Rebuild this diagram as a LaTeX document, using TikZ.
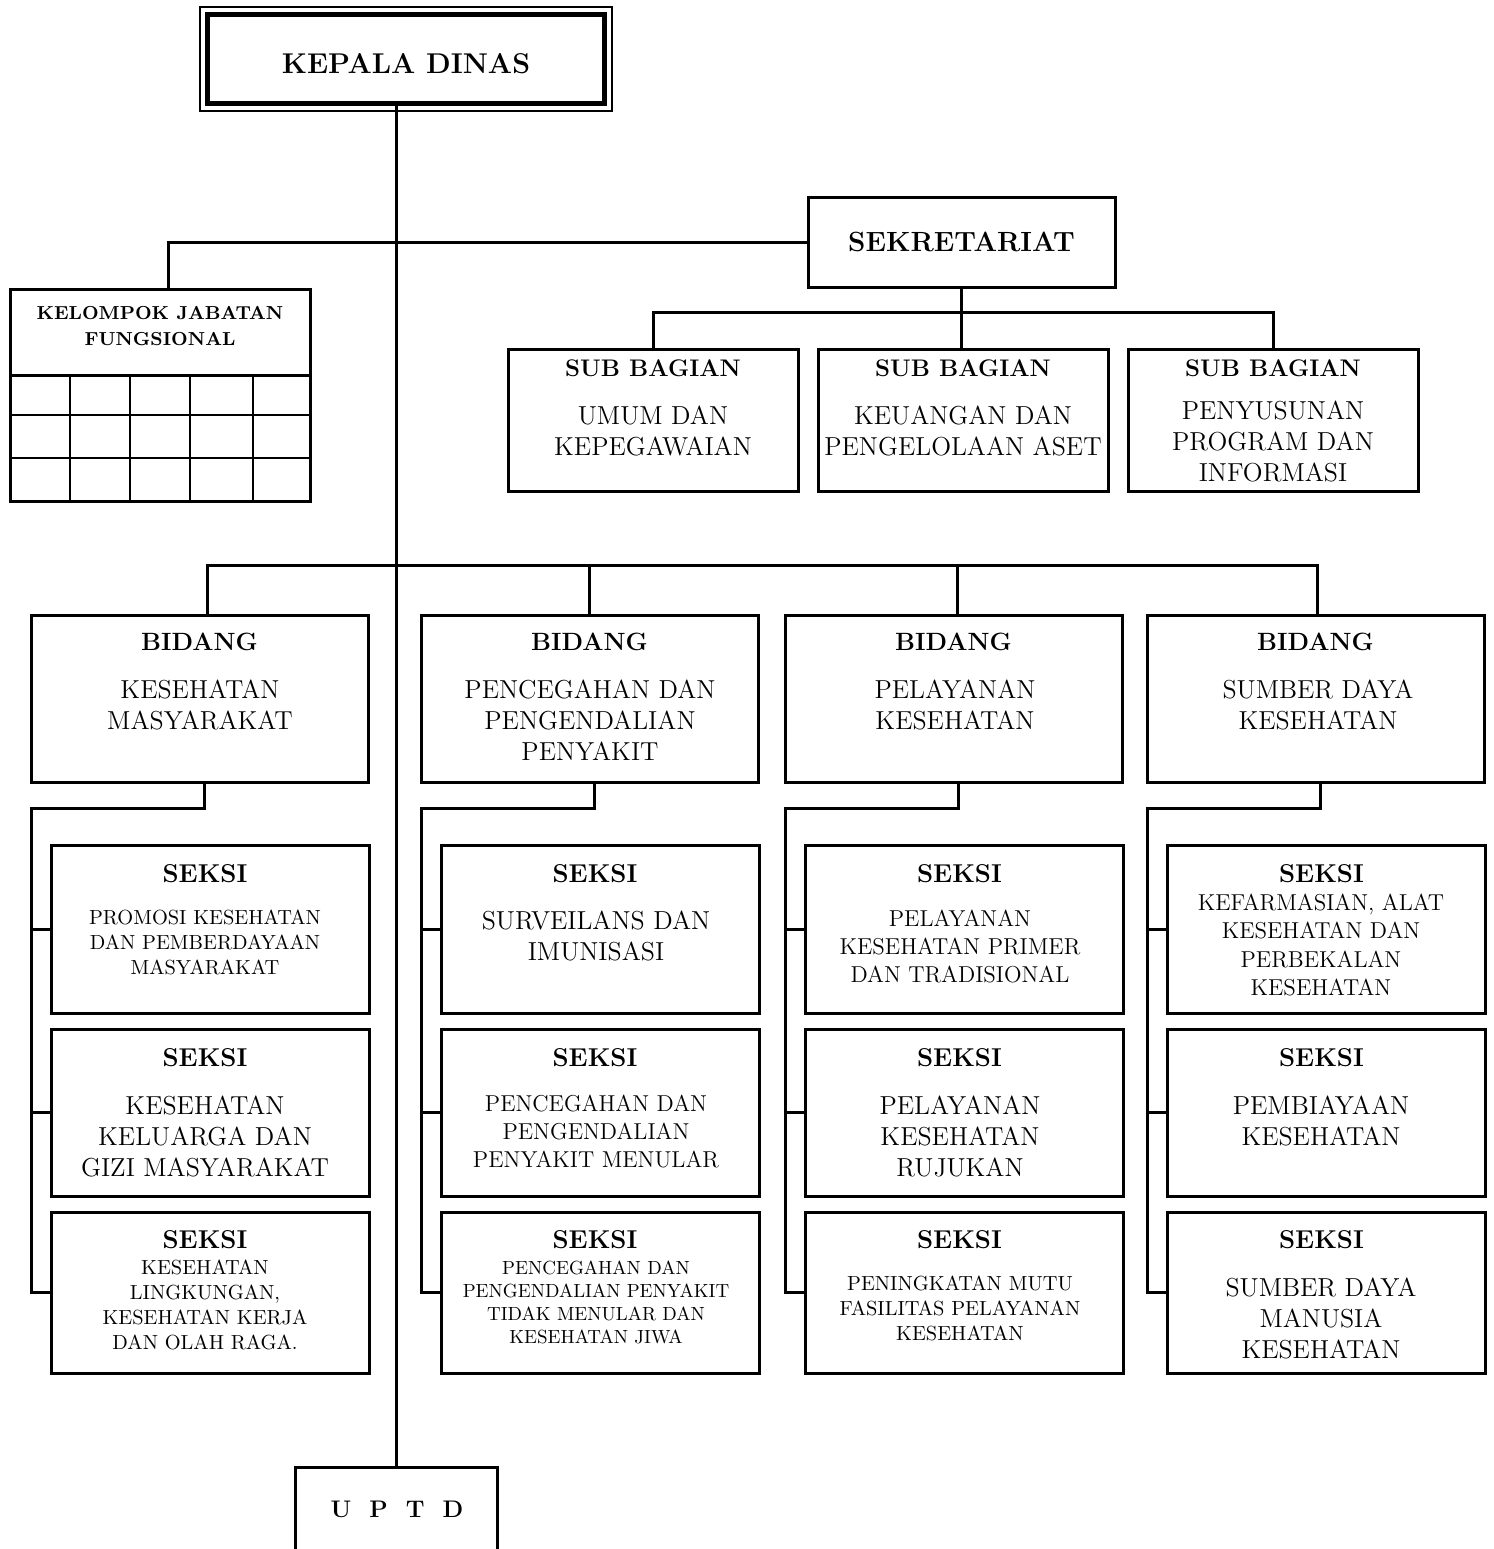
\documentclass[tikz,border=0pt]{standalone}
\usepackage{tikz}
\usetikzlibrary{positioning, calc}
\tikzset{
    box/.style={
        rectangle,
        draw=black,
        line width=1.5pt,
        outer sep=0pt,
        inner sep=0pt
    },
    kdbox/.style={
        box,
        line width=2.5pt,
        minimum width=198.5pt,
        minimum height=44.5pt
    },
    sekbox/.style={
        box,
        minimum width=153.5pt,
        minimum height=45pt
    },
    subbox/.style={
        box,
        minimum width=145pt,
        minimum height=71pt
    },
    bidbox/.style={
        box,
        minimum width=168.5pt,
        minimum height=83.5pt
    },
    seksibox/.style={
        box,
        minimum width=159pt
    },
    head/.style={
        inner sep=0pt,
        font=\fontsize{12.5}{15}\selectfont\bfseries
    },
    bighead/.style={
        inner sep=0pt,
        font=\fontsize{14.3}{17}\selectfont\bfseries
    },
    bigtxt/.style={
        align=center,
        inner sep=0pt,
        font=\fontsize{13}{15.5}\selectfont
    },
    midtxt/.style={
        align=center,
        inner sep=0pt,
        font=\fontsize{11.5}{14.2}\selectfont
    },
    smalltxt/.style={
        align=center,
        inner sep=0pt,
        font=\fontsize{10.2}{12.5}\selectfont
    },
    tinytxt/.style={
        align=center,
        inner sep=0pt,
        font=\fontsize{9.5}{11.5}\selectfont
    },
    gridline/.style={
        draw=black,
        line width=1pt
    },
    connection/.style={
        draw=black,
        line width=1.5pt
    }
}

\begin{document}
\begin{tikzpicture}[x=0.5pt, y=-0.5pt]

\path[use as bounding box, fill=white] (0,0) rectangle (1494,1549);

% Kepala Dinas
\node[kdbox] (kd) at (406,59) {};
\draw[line width=0.75pt] ([shift={(-3.75pt,3.75pt)}]kd.north west) rectangle ([shift={(3.75pt,-3.75pt)}]kd.south east);
\node[bighead] (kd-t) at (406,64) {KEPALA DINAS};

% Sekretariat
\node[sekbox] (sek) at (961.5,242) {};
\node[bighead, font=\fontsize{13.9}{16}\selectfont\bfseries] (sek-t) at (sek) {SEKRETARIAT};

% Kelompok jabatan fungsional
\node[box, minimum width=150pt, minimum height=43pt] (kjf) at (160,332) {};
\node[align=center, inner sep=0pt, font=\fontsize{9.4}{13}\selectfont\bfseries] (kjf-t) at (160,326) {KELOMPOK JABATAN\\FUNGSIONAL};
\foreach \gx in {70,130,190,253}
    \draw[gridline] (\gx,375) -- (\gx,501);
\foreach \gy in {415,458}
    \draw[gridline] (10,\gy) -- (310,\gy);
\draw[connection] (kjf.south west) -- (10,501) -- (310,501) -- (kjf.south east);

% Sub bagian
\foreach \n/\x in {1/653,2/963,3/1273} {
    \node[subbox] (sb\n) at (\x,420) {};
    \node[head, font=\fontsize{12}{14}\selectfont\bfseries] (sb\n-h) at (\x,368) {SUB BAGIAN};
}
\node[bigtxt] (sb1-t) at (653,431) {UMUM DAN\\KEPEGAWAIAN};
\node[bigtxt] (sb2-t) at (963,431) {KEUANGAN DAN\\PENGELOLAAN ASET};
\node[bigtxt] (sb3-t) at (1273,441) {PENYUSUNAN\\PROGRAM DAN\\INFORMASI};

% Bidang
\foreach \n/\x in {1/199.5,2/589.5,3/953.5,4/1315.5} {
    \node[bidbox] (b\n) at (\x,698.5) {};
    \node[head] (b\n-h) at (\x,642) {BIDANG};
}
\node[bigtxt] (b1-t) at (200,704.5) {KESEHATAN\\MASYARAKAT};
\node[bigtxt] (b2-t) at (590,720) {PENCEGAHAN DAN\\PENGENDALIAN\\PENYAKIT};
\node[bigtxt] (b3-t) at (955,704.5) {PELAYANAN\\KESEHATAN};
\node[bigtxt] (b4-t) at (1318,704.5) {SUMBER DAYA\\KESEHATAN};

% Seksi
\foreach \n/\x in {1/210,2/600,3/964.5,4/1326.5} {
    \node[seksibox, minimum height=84pt] (s\n1) at (\x,929) {};
    \node[seksibox, minimum height=83.5pt] (s\n2) at (\x,1112.5) {};
    \node[seksibox, minimum height=80.5pt] (s\n3) at (\x,1292.5) {};
    \node[head, font=\fontsize{12.9}{15}\selectfont\bfseries] (h\n1) at (\x-5,874) {SEKSI};
    \node[head, font=\fontsize{12.9}{15}\selectfont\bfseries] (h\n2) at (\x-5,1058) {SEKSI};
    \node[head, font=\fontsize{12.9}{15}\selectfont\bfseries] (h\n3) at (\x-5,1240) {SEKSI};
    \draw[connection] ([xshift=2.5pt]b\n.south) -- ++(0,26) -| ([xshift=-10pt]s\n3.west) -- (s\n3.west);
    \draw[connection] ([xshift=-10pt]s\n1.west) -- (s\n1.west);
    \draw[connection] ([xshift=-10pt]s\n2.west) -- (s\n2.west);
}
\node[smalltxt] (s11-t) at (205,942) {PROMOSI KESEHATAN\\DAN PEMBERDAYAAN\\MASYARAKAT};
\node[bigtxt] (s12-t) at (205,1136) {KESEHATAN\\KELUARGA DAN\\GIZI MASYARAKAT};
\node[smalltxt] (s13-t) at (205,1304.5) {KESEHATAN\\LINGKUNGAN,\\KESEHATAN KERJA\\DAN OLAH RAGA.};
\node[bigtxt] (s21-t) at (596,935.5) {SURVEILANS DAN\\IMUNISASI};
\node[midtxt] (s22-t) at (596,1131.5) {PENCEGAHAN DAN\\PENGENDALIAN\\PENYAKIT MENULAR};
\node[tinytxt] (s23-t) at (596,1302) {PENCEGAHAN DAN\\PENGENDALIAN PENYAKIT\\TIDAK MENULAR DAN\\KESEHATAN JIWA};
\node[midtxt] (s31-t) at (960,946.5) {PELAYANAN\\KESEHATAN PRIMER\\DAN TRADISIONAL};
\node[bigtxt] (s32-t) at (960,1136) {PELAYANAN\\KESEHATAN\\RUJUKAN};
\node[smalltxt] (s33-t) at (960,1308) {PENINGKATAN MUTU\\FASILITAS PELAYANAN\\KESEHATAN};
\node[midtxt] (s41-t) at (1321,945) {KEFARMASIAN, ALAT\\KESEHATAN DAN\\PERBEKALAN\\KESEHATAN};
\node[bigtxt] (s42-t) at (1321,1120.5) {PEMBIAYAAN\\KESEHATAN};
\node[bigtxt] (s43-t) at (1321,1318) {SUMBER DAYA\\MANUSIA\\KESEHATAN};

% UPTD
\node[box, minimum width=101pt, minimum height=66.5pt] (uptd) at (396,1533.5) {};
\node[head, font=\fontsize{12}{14}\selectfont\bfseries] (uptd-t) at (397,1509) {\spaceskip=9pt\relax U P T D};

% Connectors
\draw[connection] (uptd.north |- kd.south) -- (uptd.north);
\draw[connection] (sek.west) -| ([xshift=4pt]kjf.north);
\draw[connection] (sek.south) -- ++(0,25) -| (sb1.north);
\draw[connection] (sek.south) -- ++(0,25) -| (sb3.north);
\draw[connection] (sek.south) -- (sek.south |- sb2.north);
\draw[connection] ([xshift=4pt]b1.north) -- ++(0,-50) -| ([xshift=1pt]b4.north);
\draw[connection] (b2.north) -- ++(0,-50);
\draw[connection] ([xshift=2pt]b3.north) -- ++(0,-50);

\end{tikzpicture}
\end{document}
